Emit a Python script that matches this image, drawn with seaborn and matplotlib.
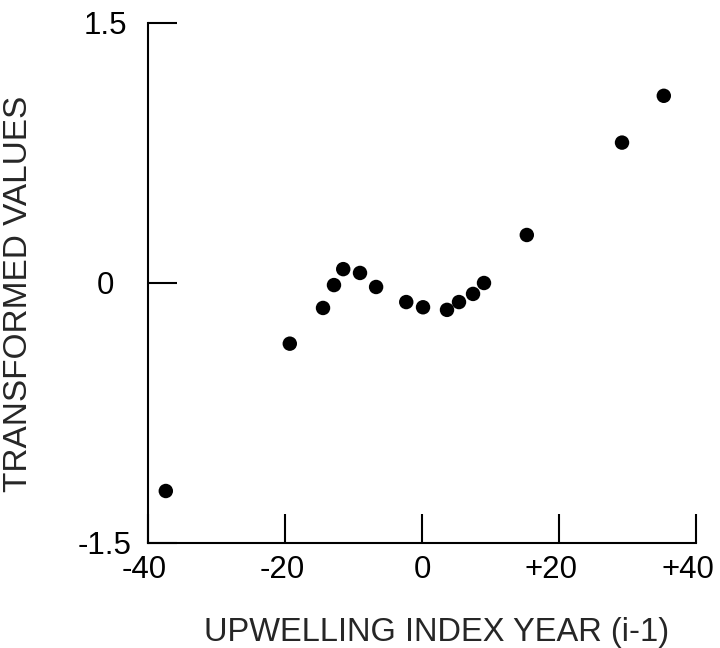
import matplotlib
matplotlib.use("Agg")
import matplotlib.pyplot as plt
import matplotlib.transforms as mtransforms
import seaborn as sns
import pandas as pd

# Data
upwelling_year = [-37.4, -19.3, -14.45, -12.85, -11.5, -9.05, -6.7, -2.3, 0.15,
                  3.65, 5.4, 7.45, 9.05, 15.3, 29.2, 35.3]
transformed = [-1.20, -0.35, -0.144, -0.012, 0.08, 0.058, -0.023, -0.11, -0.14,
               -0.155, -0.11, -0.063, 0.0, 0.277, 0.81, 1.08]
x_ticks = [-40, -20, 0, 20, 40]
x_tick_labels = ["-40", "-20", "0", "+20", "+40"]
y_ticks = [-1.5, 0, 1.5]
y_tick_labels = ["-1.5", "0", "1.5"]

df = pd.DataFrame({"x": upwelling_year, "y": transformed})

sns.set_style("ticks")
plt.rcParams["font.family"] = ["Liberation Sans", "DejaVu Sans"]

W, H = 720, 648
fig = plt.figure(figsize=(W / 100, H / 100), dpi=100)
left, right, top, bottom = 148, 696, 23, 543
ax = fig.add_axes([left / W, (H - bottom) / H, (right - left) / W, (bottom - top) / H])

sns.scatterplot(data=df, x="x", y="y", ax=ax, color="black", s=108,
                edgecolor="none", linewidth=0, legend=False)

ax.set_xlim(-40, 40)
ax.set_ylim(-1.5, 1.5)
for s in ["top", "right"]:
    ax.spines[s].set_visible(False)
for s in ["left", "bottom"]:
    ax.spines[s].set_linewidth(1.5)
    ax.spines[s].set_color("black")

ax.set_xticks(x_ticks)
ax.set_xticklabels(x_tick_labels)
ax.set_yticks(y_ticks)
ax.set_yticklabels(y_tick_labels)
ax.tick_params(axis="both", direction="in", length=21, width=1.5, colors="black",
               labelsize=22.5)
ax.tick_params(axis="x", pad=9)
ax.tick_params(axis="y", pad=31)
for lab in ax.get_yticklabels():
    lab.set_horizontalalignment("center")

# small leftward nudges of the x tick labels, as in the reference
x_shift_px = [-4, -3, 0, -8, -8]
for lab, dx in zip(ax.get_xticklabels(), x_shift_px):
    lab.set_transform(lab.get_transform() +
                      mtransforms.ScaledTranslation(dx / 100, 0, fig.dpi_scale_trans))

ax.set_xlabel("")
ax.set_ylabel("")
fig.text(437 / W, (H - 641) / H, "UPWELLING INDEX YEAR (i-1)", ha="center",
         va="baseline", fontsize=23.5)
fig.text(19 / W, (H - 294) / H, "TRANSFORMED VALUES", ha="center", va="center",
         rotation=90, fontsize=24)

fig.savefig("out.png", dpi=100)
